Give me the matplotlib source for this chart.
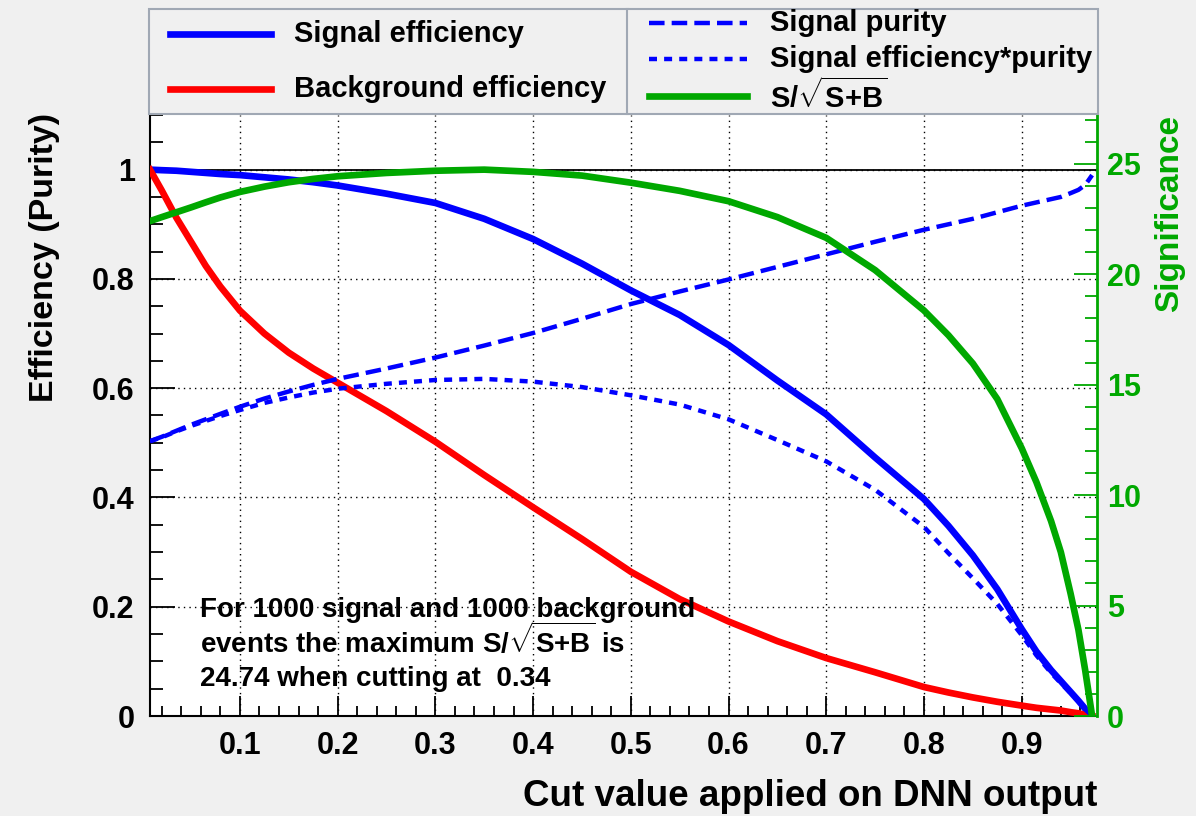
import matplotlib
matplotlib.use("Agg")
import matplotlib.pyplot as plt
from matplotlib.lines import Line2D
from matplotlib.patches import Rectangle
from matplotlib.ticker import MultipleLocator

# values
cut = [0.008, 0.02, 0.035, 0.05, 0.065, 0.08, 0.1, 0.125, 0.15, 0.175, 0.2, 0.25,
       0.3, 0.35, 0.4, 0.45, 0.5, 0.55, 0.6, 0.65, 0.7, 0.75, 0.8, 0.825, 0.85,
       0.875, 0.9, 0.915, 0.93, 0.94, 0.95, 0.958, 0.965, 0.972]
sig_eff = [1.000, 0.999, 0.998, 0.996, 0.994, 0.992, 0.990, 0.986, 0.982, 0.977,
           0.971, 0.956, 0.939, 0.910, 0.873, 0.828, 0.779, 0.734, 0.679, 0.614,
           0.552, 0.473, 0.397, 0.348, 0.294, 0.232, 0.159, 0.118, 0.084, 0.064,
           0.044, 0.028, 0.013, 0.0]
bkg_eff = [1.000, 0.962, 0.912, 0.868, 0.824, 0.786, 0.742, 0.700, 0.665, 0.636,
           0.610, 0.558, 0.502, 0.441, 0.382, 0.324, 0.264, 0.214, 0.173, 0.137,
           0.106, 0.080, 0.053, 0.043, 0.034, 0.026, 0.019, 0.015, 0.012, 0.010,
           0.007, 0.005, 0.002, 0.0]
purity = [0.503, 0.511, 0.522, 0.533, 0.543, 0.553, 0.566, 0.581, 0.594, 0.606,
          0.617, 0.636, 0.656, 0.678, 0.701, 0.727, 0.754, 0.777, 0.799, 0.822,
          0.845, 0.868, 0.890, 0.900, 0.910, 0.922, 0.934, 0.940, 0.946, 0.950,
          0.957, 0.963, 0.972, 0.990]
eff_purity = [0.503, 0.510, 0.521, 0.531, 0.540, 0.549, 0.560, 0.573, 0.583, 0.592,
              0.599, 0.608, 0.615, 0.617, 0.612, 0.602, 0.587, 0.570, 0.543, 0.505,
              0.466, 0.414, 0.346, 0.298, 0.252, 0.205, 0.148, 0.111, 0.079, 0.060,
              0.042, 0.027, 0.012, 0.0]
significance = [22.41, 22.59, 22.81, 23.03, 23.26, 23.48, 23.73, 23.97, 24.17, 24.32,
                24.44, 24.59, 24.69, 24.74, 24.64, 24.47, 24.15, 23.78, 23.31, 22.59,
                21.65, 20.19, 18.36, 17.24, 15.96, 14.35, 12.12, 10.59, 8.83, 7.42,
                5.54, 3.90, 2.05, 0.0]

x_ticks = [0.1, 0.2, 0.3, 0.4, 0.5, 0.6, 0.7, 0.8, 0.9]
x_tick_labels = ["0.1", "0.2", "0.3", "0.4", "0.5", "0.6", "0.7", "0.8", "0.9"]
y_ticks = [0, 0.2, 0.4, 0.6, 0.8, 1.0]
y_tick_labels = ["0", "0.2", "0.4", "0.6", "0.8", "1"]
sig_ticks = [0, 5, 10, 15, 20, 25]
sig_tick_labels = ["0", "5", "10", "15", "20", "25"]

n_signal = 1000
n_background = 1000
max_significance = 24.74
best_cut = 0.34

BLUE = "#0000ff"
RED = "#ff0000"
GREEN = "#00a800"
BG = "#f0f0f0"
FRAME = "#a0a8b4"

plt.rcParams["font.family"] = ["Liberation Sans", "DejaVu Sans"]
plt.rcParams["font.weight"] = "bold"
plt.rcParams["mathtext.fontset"] = "custom"
plt.rcParams["mathtext.rm"] = "Liberation Sans:bold"
plt.rcParams["mathtext.it"] = "Liberation Sans:bold"
plt.rcParams["mathtext.bf"] = "Liberation Sans:bold"

styles = {
    "sig": dict(color=BLUE, lw=4.8),
    "bkg": dict(color=RED, lw=4.8),
    "pur": dict(color=BLUE, lw=3.2, dashes=(3.5, 1.6)),
    "effpur": dict(color=BLUE, lw=3.2, dashes=(1.8, 1.6)),
    "sb": dict(color=GREEN, lw=4.8),
}
SQRT_SB = r"S/$\sqrt{S{+}B}$"

W, H = 1196, 816
fig = plt.figure(figsize=(W / 100, H / 100), dpi=100, facecolor=BG)


def fx(px):
    return px / W


def fy(py):
    return 1 - py / H


ax = fig.add_axes([fx(150), fy(716), fx(1097) - fx(150), fy(115) - fy(716)])
ax.set_facecolor("white")
ax.set_xlim(0.008, 0.977)
ax.set_ylim(0, 1.1)

ax.grid(True, which="major", color="black", linestyle=(0, (1, 3)), lw=1.0)
ax.axhline(1.0, color="black", lw=1.3, zorder=2)

ax.plot(cut, sig_eff, **styles["sig"], zorder=3)
ax.plot(cut, bkg_eff, **styles["bkg"], zorder=3)
ax.plot(cut, purity, **styles["pur"], zorder=3)
ax.plot(cut, eff_purity, **styles["effpur"], zorder=3)

ax.set_xticks(x_ticks, x_tick_labels)
ax.xaxis.set_minor_locator(MultipleLocator(0.02))
ax.set_yticks(y_ticks, y_tick_labels)
ax.yaxis.set_minor_locator(MultipleLocator(0.05))
ax.tick_params(which="both", direction="in", top=False, right=False,
               labelsize=22, width=1.3, color="black")
ax.tick_params(axis="x", which="major", length=14.5, pad=11)
ax.tick_params(axis="x", which="minor", length=7.2)
ax.tick_params(axis="y", which="major", length=18, pad=11)
ax.tick_params(axis="y", which="minor", length=9.4)
for s in ["top", "right"]:
    ax.spines[s].set_visible(False)
for s in ["left", "bottom"]:
    ax.spines[s].set_linewidth(1.5)

ax2 = ax.twinx()
ax2.plot(cut, significance, **styles["sb"], zorder=4)
ax2.set_ylim(0, 1.1 * max_significance)
ax2.set_yticks(sig_ticks, sig_tick_labels)
ax2.yaxis.set_minor_locator(MultipleLocator(1))
ax2.tick_params(axis="y", which="both", direction="in", colors=GREEN,
                labelsize=22, width=1.3, pad=7)
ax2.tick_params(axis="y", which="major", length=16.5)
ax2.tick_params(axis="y", which="minor", length=8.6)
for s in ["top", "left", "bottom"]:
    ax2.spines[s].set_visible(False)
ax2.spines["right"].set_color(GREEN)
ax2.spines["right"].set_linewidth(2)

# axis titles
fig.text(fx(45), fy(113), "Efficiency (Purity)", rotation=90, ha="center",
         va="top", fontsize=24.5)
fig.text(fx(1170), fy(115), "Significance", rotation=90, ha="center",
         va="top", fontsize=24, color=GREEN)
fig.text(fx(1097), fy(806), "Cut value applied on DNN output", ha="right",
         va="baseline", fontsize=26.5)

# result text
notes = [
    f"For {n_signal} signal and {n_background} background",
    f"events the maximum {SQRT_SB} is",
    f"{max_significance:.2f} when cutting at  {best_cut:.2f}",
]
note_y = [0.182, 0.115, 0.0545]
for txt, yy in zip(notes, note_y):
    ax.text(0.059, yy, txt, fontsize=20, va="baseline", ha="left", zorder=5)

# legend boxes on top of the frame
boxes = [(149, 9, 628, 114), (627, 9, 1098, 114)]
for x0, y0, x1, y1 in boxes:
    fig.patches.append(Rectangle((fx(x0), fy(y1)), fx(x1) - fx(x0), fy(y0) - fy(y1),
                                 transform=fig.transFigure, facecolor=BG,
                                 edgecolor=FRAME, lw=1.5))

legend_left = [("sig", "Signal efficiency", 34), ("bkg", "Background efficiency", 89)]
legend_right = [("pur", "Signal purity", 23), ("effpur", "Signal efficiency*purity", 59),
                ("sb", SQRT_SB, 96)]
for entries, lx0, lx1, tx in [(legend_left, 170, 271, 294), (legend_right, 649, 747, 770)]:
    for key, label, yy in entries:
        fig.lines.append(Line2D([fx(lx0), fx(lx1)], [fy(yy), fy(yy)],
                                transform=fig.transFigure, **styles[key]))
        fig.text(fx(tx), fy(yy), label, ha="left", va="center", fontsize=21)

fig.savefig("out.png", dpi=100, facecolor=BG)
